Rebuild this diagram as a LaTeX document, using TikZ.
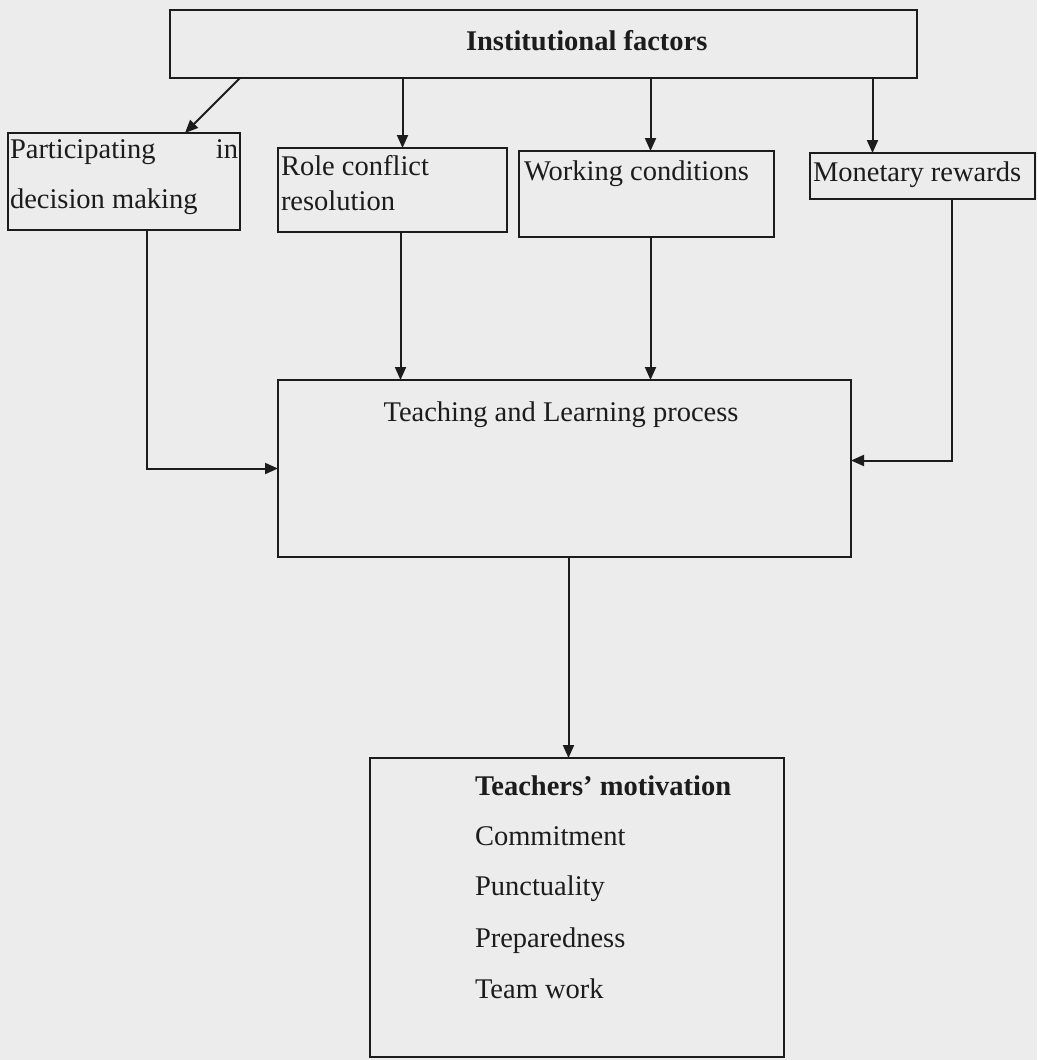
\documentclass[tikz,border=0pt]{standalone}
\usepackage{fontspec}
\setmainfont{Liberation Serif}
\usetikzlibrary{arrows.meta}
\definecolor{paper}{RGB}{236,236,236}
\definecolor{ink}{RGB}{28,28,28}
\begin{document}
\begin{tikzpicture}[x=1pt,y=-1pt,
  box/.style={draw=ink,line width=2pt,rectangle,inner sep=0pt,outer sep=0pt},
  txt/.style={inner sep=0pt,outer sep=0pt,text=ink,font=\fontsize{28.5}{34}\selectfont},
  btxt/.style={txt,font=\fontsize{28.5}{34}\selectfont\bfseries},
  arr/.style={draw=ink,line width=2pt,-{Triangle[length=13pt,width=11pt]}}
]
\fill[paper] (0,0) rectangle (1037,1060);
\useasboundingbox (0,0) rectangle (1037,1060);
% boxes
\node[box,minimum width=747pt,minimum height=68pt] (inst) at (543.5,44) {};
\node[box,minimum width=232pt,minimum height=97pt] (part) at (124,181.5) {};
\node[box,minimum width=229pt,minimum height=84pt] (role) at (392.5,190) {};
\node[box,minimum width=255pt,minimum height=86pt] (work) at (646.5,194) {};
\node[box,minimum width=225pt,minimum height=46pt] (mon) at (922.5,176) {};
\node[box,minimum width=573pt,minimum height=177pt] (teach) at (564.5,468.5) {};
\node[box,minimum width=414pt,minimum height=299pt] (motiv) at (577,907.5) {};
% texts
\node[btxt,anchor=base west] (tinst) at (466,50) {Institutional factors};
\node[txt,anchor=base west] (tpart1) at (10,158) {Participating};
\node[txt,anchor=base east] (tpart2) at (238,158) {in};
\node[txt,anchor=base west] (tpart3) at (10,208) {decision making};
\node[txt,anchor=base west] (trole1) at (281,175) {Role conflict};
\node[txt,anchor=base west] (trole2) at (281,210) {resolution};
\node[txt,anchor=base west] (twork) at (524,180) {Working conditions};
\node[txt,anchor=base west] (tmon) at (813,181) {Monetary rewards};
\node[txt,anchor=base] (tteach) at (561,421) {Teaching and Learning process};
\node[btxt,anchor=base west] (tmot) at (475,795) {Teachers’ motivation};
\node[txt,anchor=base west] (tm1) at (475,845) {Commitment};
\node[txt,anchor=base west] (tm2) at (475,895) {Punctuality};
\node[txt,anchor=base west] (tm3) at (475,947) {Preparedness};
\node[txt,anchor=base west] (tm4) at (475,998) {Team work};
% connectors
\draw[arr] ([xshift=70pt]inst.south west) -- ([xshift=61pt]part.north);
\draw[arr] ([xshift=10pt]role.north |- inst.south) -- ([xshift=10pt]role.north);
\draw[arr] ([xshift=4pt]work.north |- inst.south) -- ([xshift=4pt]work.north);
\draw[arr] ([xshift=-50pt]mon.north |- inst.south) -- ([xshift=-50pt]mon.north);
\draw[arr] ([xshift=23pt]part.south) |- (teach.west);
\draw[arr] ([xshift=8pt]role.south) -- ([xshift=8pt]role.south |- teach.north);
\draw[arr] ([xshift=4pt]work.south) -- ([xshift=4pt]work.south |- teach.north);
\draw[arr] ([xshift=29pt]mon.south) |- ([yshift=8pt]teach.east);
\draw[arr] ([xshift=4pt]teach.south) -- ([xshift=4pt]teach.south |- motiv.north);
\end{tikzpicture}
\end{document}
